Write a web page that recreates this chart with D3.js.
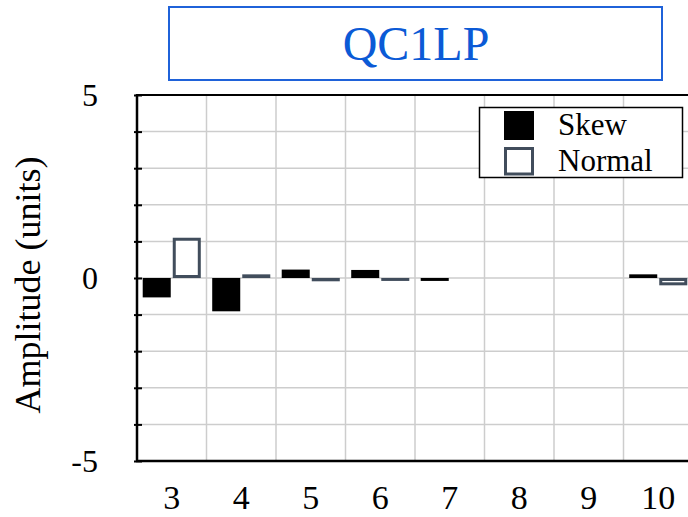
<!DOCTYPE html>
<html>
<head>
<meta charset="utf-8">
<script src="https://cdn.jsdelivr.net/npm/d3@7/dist/d3.min.js"></script>
<style>
  html, body { margin: 0; padding: 0; background: #fff; }
  svg { display: block; }
</style>
</head>
<body>
<svg id="chart" width="688" height="517"></svg>
<script>
// Harmonic amplitudes for magnet QC1LP
const title = "QC1LP";
const harmonics = ["3", "4", "5", "6", "7", "8", "9", "10"];
const skew   = [-0.53, -0.91, 0.23, 0.22, -0.08, 0, 0, 0.10];
const normal = [1.10, 0.10, -0.09, -0.08, 0, 0, 0, -0.20];
const seriesNames = ["Skew", "Normal"];
const yTicks = [-5, 0, 5];
const yLabel = "Amplitude (units)";

const FONT = '"Liberation Serif"';
const svg = d3.select("#chart");
const m = { left: 137, top: 95, bottom: 461 };
const step = 69.5;
const plotRight = m.left + step * harmonics.length;

const x = d3.scaleBand().domain(harmonics).range([m.left, plotRight]);
const xs = d3.scaleBand().domain(seriesNames).range([0, x.bandwidth()])
  .paddingInner(0.067).paddingOuter(0.19);
const y = d3.scaleLinear().domain([-5, 5]).range([m.bottom, m.top]);

const gridColor = "#cdcdcd";
const normalColor = "#414d5c";

// Grid
const grid = svg.append("g");
grid.selectAll("line.h").data(d3.range(-4, 5)).join("line")
  .attr("x1", m.left).attr("x2", plotRight)
  .attr("y1", d => y(d)).attr("y2", d => y(d))
  .attr("stroke", gridColor).attr("stroke-width", 1.5);
grid.selectAll("line.v").data(harmonics.slice(1)).join("line")
  .attr("x1", d => x(d)).attr("x2", d => x(d))
  .attr("y1", m.top).attr("y2", m.bottom)
  .attr("stroke", gridColor).attr("stroke-width", 1.5);

// Bars
const bars = svg.append("g");
bars.selectAll("rect.skew").data(harmonics).join("rect")
  .attr("x", d => x(d) + xs("Skew"))
  .attr("width", xs.bandwidth())
  .attr("y", (d, i) => Math.min(y(skew[i]), y(0)))
  .attr("height", (d, i) => Math.abs(y(skew[i]) - y(0)))
  .attr("fill", "#000");

// Normal bars: outlined boxes (outer shell in outline colour, white interior)
const sw = 3;
bars.selectAll("rect.normOuter").data(harmonics).join("rect")
  .attr("x", d => x(d) + xs("Normal"))
  .attr("width", xs.bandwidth())
  .attr("y", (d, i) => Math.min(y(normal[i]), y(0)))
  .attr("height", (d, i) => Math.abs(y(normal[i]) - y(0)))
  .attr("fill", normalColor);
bars.selectAll("rect.normInner").data(harmonics).join("rect")
  .attr("x", d => x(d) + xs("Normal") + sw)
  .attr("width", xs.bandwidth() - 2 * sw)
  .attr("y", (d, i) => Math.min(y(normal[i]), y(0)) + sw)
  .attr("height", (d, i) => Math.max(0, Math.abs(y(normal[i]) - y(0)) - 2 * sw))
  .attr("fill", "#fff");

// Frame
svg.append("line").attr("x1", m.left).attr("x2", plotRight).attr("y1", m.top).attr("y2", m.top)
  .attr("stroke", "#000").attr("stroke-width", 2);
svg.append("line").attr("x1", m.left - 1).attr("x2", plotRight).attr("y1", m.bottom).attr("y2", m.bottom)
  .attr("stroke", "#000").attr("stroke-width", 2.5);
svg.append("line").attr("x1", m.left).attr("x2", m.left).attr("y1", m.top - 1).attr("y2", m.bottom + 1)
  .attr("stroke", "#000").attr("stroke-width", 2.5);

// Y axis: minor ticks at every unit, labels at -5, 0, 5
const yAxis = d3.axisLeft(y).tickValues(d3.range(-5, 6)).tickSize(0).tickFormat("");
const ya = svg.append("g").attr("transform", `translate(${m.left},0)`).call(yAxis);
ya.select(".domain").remove();
ya.selectAll(".tick").append("line")
  .attr("x1", -3).attr("x2", 5).attr("stroke", "#000").attr("stroke-width", 2);
svg.append("g").selectAll("text").data(yTicks).join("text")
  .attr("x", 98).attr("y", d => y(d))
  .attr("text-anchor", "end").attr("dominant-baseline", "central")
  .style("font-family", FONT)
  .attr("font-size", 32).attr("fill", "#000")
  .text(d => d);

// X axis labels
const xAxis = d3.axisBottom(x).tickSize(0).tickPadding(0);
const xa = svg.append("g").attr("transform", `translate(0,${m.bottom})`).call(xAxis);
xa.select(".domain").remove();
xa.selectAll("text")
  .attr("y", 48).attr("dy", null)
  .attr("font-size", 34).style("font-family", FONT)
  .attr("fill", "#000");

// Y axis title
svg.append("text")
  .attr("transform", "translate(28,285) rotate(-90)")
  .attr("text-anchor", "middle").attr("dominant-baseline", "central")
  .style("font-family", FONT)
  .attr("font-size", 36).attr("fill", "#000")
  .text(yLabel);

// Title box
svg.append("rect").attr("x", 169).attr("y", 7).attr("width", 493).attr("height", 73)
  .attr("fill", "#fff").attr("stroke", "#1f62d9").attr("stroke-width", 2);
svg.append("text").attr("x", 416).attr("y", 60)
  .attr("text-anchor", "middle").attr("font-size", 48).attr("fill", "#0b5ad6")
  .style("font-family", FONT)
  .text(title);

// Legend
const lg = svg.append("g");
lg.append("rect").attr("x", 479.5).attr("y", 107.5).attr("width", 203).attr("height", 70)
  .attr("fill", "#fff").attr("stroke", "#000").attr("stroke-width", 1.5);
lg.append("rect").attr("x", 504).attr("y", 111).attr("width", 30).attr("height", 29).attr("fill", "#000");
lg.append("rect").attr("x", 505.5).attr("y", 148.5).attr("width", 27).attr("height", 25.5)
  .attr("fill", "#fff").attr("stroke", normalColor).attr("stroke-width", 3);
lg.selectAll("text").data(seriesNames).join("text")
  .attr("x", 558).attr("y", (d, i) => 135 + i * 36)
  .style("font-family", FONT)
  .attr("font-size", 31).attr("fill", "#000")
  .text(d => d);
</script>
</body>
</html>
